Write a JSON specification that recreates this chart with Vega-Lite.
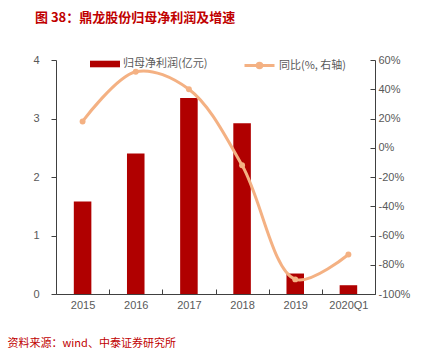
{
  "$schema": "https://vega.github.io/schema/vega-lite/v6.json",
  "width": 319,
  "height": 234,
  "autosize": {"type": "none"},
  "padding": {"left": 56, "top": 60, "right": 67, "bottom": 63},
  "background": "white",
  "config": {
    "view": {"stroke": null},
    "font": "Noto Sans CJK SC",
    "axis": {"labelFont": "Liberation Sans", "labelColor": "#595959", "labelFontSize": 11, "domainColor": "#404040", "tickColor": "#404040", "grid": false}
  },
  "title": {
    "text": "图 38：鼎龙股份归母净利润及增速",
    "anchor": "start",
    "frame": "group",
    "color": "#c00000",
    "fontSize": 13,
    "fontWeight": "bold",
    "font": "Noto Sans CJK SC",
    "dx": -21,
    "offset": 24
  },
  "data": {
    "values": [
      {"year": "2015", "profit": 1.58, "yoy": 18},
      {"year": "2016", "profit": 2.4, "yoy": 52},
      {"year": "2017", "profit": 3.35, "yoy": 40},
      {"year": "2018", "profit": 2.92, "yoy": -12},
      {"year": "2019", "profit": 0.35, "yoy": -90},
      {"year": "2020Q1", "profit": 0.15, "yoy": -73}
    ]
  },
  "encoding": {
    "x": {
      "field": "year",
      "type": "nominal",
      "sort": null,
      "scale": {"paddingInner": 0, "paddingOuter": 0},
      "axis": {
        "labelAngle": 0,
        "tickBand": "extent",
        "tickSize": -5,
        "labelPadding": 10,
        "title": "资料来源：wind、中泰证券研究所",
        "titleColor": "#c00000",
        "titleFont": "Noto Sans CJK SC",
        "titleFontSize": 11,
        "titleFontWeight": "normal",
        "titleAnchor": "start",
        "titleAlign": "left",
        "titleX": -49,
        "titleY": 49,
        "titleBaseline": "middle"
      }
    }
  },
  "layer": [
    {
      "mark": {"type": "bar", "width": {"band": 0.33}},
      "encoding": {
        "y": {
          "field": "profit",
          "type": "quantitative",
          "scale": {"domain": [0, 4]},
          "axis": {"values": [0, 1, 2, 3, 4], "title": null, "labelPadding": 12, "tickSize": 5}
        },
        "color": {
          "datum": "归母净利润(亿元)",
          "scale": {"range": ["#b00000"]},
          "legend": {
            "title": null,
            "orient": "none",
            "legendX": 34,
            "legendY": -11,
            "padding": 0,
            "symbolType": "M-1,-0.22H1V0.22H-1Z",
            "symbolSize": 900,
            "symbolStrokeWidth": 0,
            "labelOffset": 3,
            "labelFontSize": 11,
            "labelColor": "#595959",
            "labelFont": "Noto Sans CJK SC"
          }
        }
      }
    },
    {
      "mark": {"type": "line", "interpolate": "catmull-rom", "strokeWidth": 3, "point": {"size": 35, "filled": true}},
      "encoding": {
        "y": {
          "field": "yoy",
          "type": "quantitative",
          "scale": {"domain": [-100, 60]},
          "axis": {"orient": "right", "values": [-100, -80, -60, -40, -20, 0, 20, 40, 60], "labelExpr": "datum.value + '%'", "title": null, "tickSize": -5, "labelPadding": 8}
        },
        "color": {
          "datum": "同比(%, 右轴)",
          "scale": {"range": ["#f4b183"]},
          "legend": {
            "title": null,
            "orient": "none",
            "legendX": 187,
            "legendY": -11,
            "padding": 0,
            "symbolType": "M-1,0H1M0.15,0A0.15,0.15,0,1,1,-0.15,0A0.15,0.15,0,1,1,0.15,0",
            "symbolSize": 900,
            "symbolStrokeWidth": 3,
            "labelOffset": 3,
            "labelFontSize": 11,
            "labelColor": "#595959",
            "labelFont": "Noto Sans CJK SC"
          }
        }
      }
    }
  ],
  "resolve": {"scale": {"y": "independent", "color": "independent"}, "legend": {"color": "independent"}}
}
